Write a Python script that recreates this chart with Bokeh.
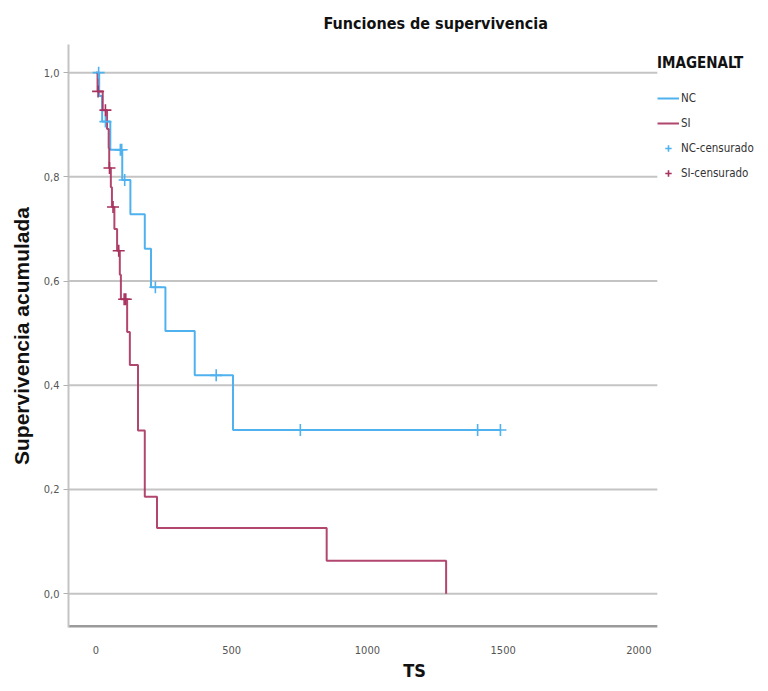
import numpy as np
from bokeh.plotting import figure
from bokeh.models import (Range1d, FixedTicker, CustomJSTickFormatter, Legend,
                          LegendItem)
from bokeh.embed import file_html
from bokeh.resources import INLINE

# ---- data ----
nc_time = [0, 12, 23, 53, 97, 127, 180, 203, 256, 364, 505]
nc_surv = [1.0, 0.955, 0.906, 0.852, 0.794, 0.728, 0.662, 0.588, 0.504, 0.419, 0.314]
nc_cens = [10, 35, 90, 95, 106, 219, 443, 753, 1406, 1490]

si_time = [0, 6, 25, 41, 47, 49, 55, 59, 68, 78, 88, 92, 115, 125, 155, 180, 225, 850, 1290]
si_surv = [1.0, 0.964, 0.928, 0.892, 0.855, 0.817, 0.780, 0.742, 0.700, 0.658, 0.612,
           0.565, 0.502, 0.439, 0.313, 0.186, 0.126, 0.063, 0.0]
si_cens = [8, 35, 50, 63, 84, 104, 110]

x_ticks = [0, 500, 1000, 1500, 2000]
y_ticks = [0.0, 0.2, 0.4, 0.6, 0.8, 1.0]

groups = ["NC", "SI"]
legend_title = "IMAGENALT"
title_text = "Funciones de supervivencia"
x_label = "TS"
y_label = "Supervivencia acumulada"

# ---- style ----
BLUE = "#4fb2ef"
RED = "#a8325e"
NARROW = "'Liberation Sans Narrow', 'DejaVu Sans Condensed', 'Arial Narrow', sans-serif"
WIDE = "'Liberation Sans', Arial, sans-serif"
X_START, X_AXIS_END, X_FRAME_END = -101, 2068, 2448   # plot area ends at 2068; legend lives beyond
Y_START, Y_END = -0.065, 1.054


def surv_at(times, surv, t):
    idx = np.searchsorted(np.array(times), np.array(t), side="right") - 1
    return list(np.array(surv)[idx])


p = figure(width=760, height=683, x_range=Range1d(X_START, X_FRAME_END),
           y_range=Range1d(Y_START, Y_END),
           output_backend="svg", toolbar_location=None,
           min_border_left=68, min_border_right=0, min_border_top=44, min_border_bottom=55)
p.outline_line_color = None
p.background_fill_color = "white"

# title
p.title.text = title_text
p.title.align = "left"
p.title.offset = 255
p.title.vertical_align = "middle"
p.title.text_font = NARROW
p.title.text_font_size = "16px"
p.title.text_font_style = "bold"
p.title.text_color = "#111111"
p.title.standoff = 22

# grid lines (ending where the plot area of the reference ends)
p.xgrid.grid_line_color = None
p.ygrid.grid_line_color = None
p.segment(x0=[X_START] * len(y_ticks), x1=[X_AXIS_END] * len(y_ticks), y0=y_ticks, y1=y_ticks,
          line_color="#c4c4c4", line_width=2)
# bottom axis line
p.segment(x0=[X_START], x1=[X_AXIS_END], y0=[Y_START], y1=[Y_START],
          line_color="#9a9a9a", line_width=5)

# axes
p.xaxis.ticker = FixedTicker(ticks=x_ticks)
p.xaxis.axis_line_color = None
p.xaxis.major_tick_line_color = None
p.xaxis.minor_tick_line_color = None
p.xaxis.major_label_standoff = 12
p.xaxis.major_label_text_font = NARROW
p.xaxis.major_label_text_font_size = "11px"
p.xaxis.major_label_text_color = "#555555"
p.xaxis.axis_label = x_label
p.xaxis.axis_label_text_font = NARROW
p.xaxis.axis_label_text_font_size = "18px"
p.xaxis.axis_label_text_font_style = "bold"
p.xaxis.axis_label_text_color = "#111111"
p.xaxis.axis_label_standoff = 3

p.yaxis.ticker = FixedTicker(ticks=y_ticks)
p.yaxis.formatter = CustomJSTickFormatter(code="return tick.toFixed(1).replace('.', ',');")
p.yaxis.axis_line_color = "#c4c4c4"
p.yaxis.axis_line_width = 2
p.yaxis.major_tick_line_color = "#b0b0b0"
p.yaxis.major_tick_out = 5
p.yaxis.major_tick_in = 0
p.yaxis.minor_tick_line_color = None
p.yaxis.major_label_standoff = 4
p.yaxis.major_label_text_font = NARROW
p.yaxis.major_label_text_font_size = "11px"
p.yaxis.major_label_text_color = "#555555"
p.yaxis.axis_label = y_label
p.yaxis.axis_label_text_font = WIDE
p.yaxis.axis_label_text_font_size = "21px"
p.yaxis.axis_label_text_font_style = "bold"
p.yaxis.axis_label_text_color = "#111111"
p.yaxis.axis_label_standoff = 8

# curves
nc_x = nc_time + [max(nc_cens)]
nc_y = nc_surv + [nc_surv[-1]]
r_nc = p.step(nc_x, nc_y, mode="after", line_color=BLUE, line_width=2)
r_si = p.step(si_time, si_surv, mode="after", line_color=RED, line_width=2, line_alpha=0.9)

r_nc_c = p.scatter(nc_cens, surv_at(nc_time, nc_surv, nc_cens), marker="cross", size=12,
                   line_color=BLUE, line_width=1.6)
r_si_c = p.scatter(si_cens, surv_at(si_time, si_surv, si_cens), marker="cross", size=12,
                   line_color=RED, line_width=1.6)

legend = Legend(items=[
    LegendItem(label=groups[0], renderers=[r_nc]),
    LegendItem(label=groups[1], renderers=[r_si]),
    LegendItem(label=groups[0] + "-censurado", renderers=[r_nc_c]),
    LegendItem(label=groups[1] + "-censurado", renderers=[r_si_c]),
], location=(589, 444))
legend.title = legend_title
legend.title_text_font = NARROW
legend.title_text_font_size = "15px"
legend.title_text_font_style = "bold"
legend.title_text_color = "#111111"
legend.title_standoff = 16
legend.label_text_font = NARROW
legend.label_text_font_size = "11.5px"
legend.label_text_color = "#333333"
legend.label_standoff = 2
legend.label_height = 20
legend.glyph_width = 22
legend.glyph_height = 16
legend.spacing = 5
legend.padding = 4
legend.margin = 0
legend.border_line_color = None
legend.background_fill_alpha = 0
p.add_layout(legend, "center")

open("out.html", "w").write(file_html(p, INLINE))
